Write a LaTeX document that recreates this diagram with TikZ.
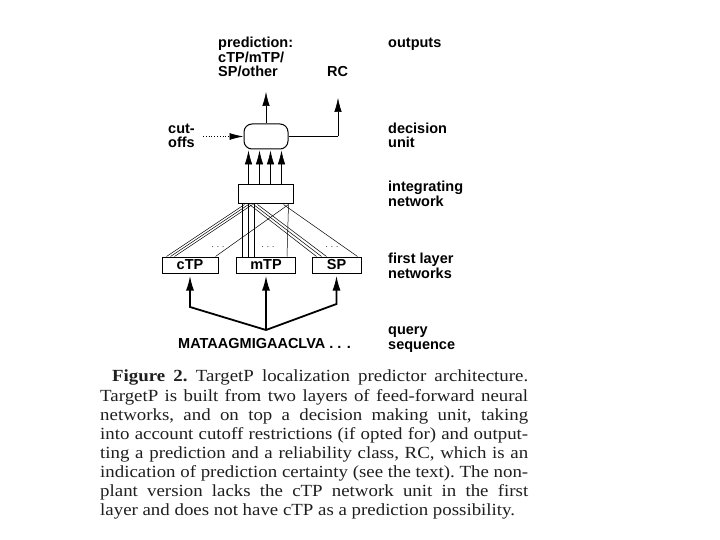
\documentclass[tikz,border=0pt]{standalone}
\usepackage{fontspec}
\setmainfont[FakeStretch=1.11]{Liberation Serif}
\newfontfamily\hvfont{Liberation Sans}
\usetikzlibrary{arrows.meta,calc}
\begin{document}
\begin{tikzpicture}[x=1pt,y=-1pt,
  lbl/.style={font=\hvfont\bfseries\fontsize{14.5}{15}\selectfont, inner sep=0pt, anchor=base west},
  netbox/.style={draw, line width=1pt, inner sep=0pt, minimum height=16pt, font=\hvfont\bfseries\fontsize{14.5}{15}\selectfont},
  conn/.style={line width=0.5pt},
  thinarrow/.style={line width=0.6pt, -{Latex[length=14pt,width=7.5pt]}},
  thickarrow/.style={line width=1.8pt, -{Latex[length=15pt,width=8pt]}, shorten >=2pt},
  dotlbl/.style={font=\hvfont\fontsize{8}{8}\selectfont, inner sep=0pt}
]
\useasboundingbox (0,0) rectangle (720,540);
\fill[white] (0,0) rectangle (720,540);

% first layer networks
\node[netbox, minimum width=56pt] (ctp) at (190,265) {cTP};
\node[netbox, minimum width=59pt] (mtp) at (266,265) {mTP};
\node[netbox, minimum width=49pt] (sp) at (336.5,265) {SP};
% integrating network
\node[draw, line width=1pt, minimum width=55pt, minimum height=19pt, inner sep=0pt] (integ) at (265.5,194.5) {};
% decision unit
\node[draw, line width=1pt, rounded corners=8pt, minimum width=44pt, minimum height=25pt, inner sep=0pt] (dec) at (266,136.5) {};

% connections first layer -> integrating network
\foreach \a/\b in {5/7, 9/11, 13/15}
  \draw[conn] ($(ctp.north west)+(\a,0)$) -- ($(integ.south west)+(\b,0)$);
\draw[conn] ($(ctp.north east)+(-3,0)$) -- ($(integ.south east)+(-5,0)$);
\foreach \a in {5,11,17}{
  \coordinate (vt\a) at ($(integ.south west)+(\a,0)$);
  \draw[conn] (vt\a) -- (vt\a |- mtp.north);
}
\draw[conn] ($(integ.south east)+(-5,0)$) -- ($(mtp.north east)+(-9,0)$);
\foreach \a/\b in {12/5, 16/10, 20/15}
  \draw[conn] ($(integ.south west)+(\a,0)$) -- ($(sp.north west)+(\b,0)$);
\draw[conn] ($(integ.south east)+(-10,0)$) -- ($(sp.north east)+(-4,0)$);
\node[dotlbl] (d1) at (218,247) {. . .};
\node[dotlbl] (d2) at (268,247) {. . .};
\node[dotlbl] (d3) at (332,247) {. . .};

% integrating -> decision
\foreach \a/\b in {11/5, 22/16, 33/27, 44/38}
  \draw[thinarrow] ($(integ.north west)+(\a,0)$) -- ($(dec.south west)+(\b,1)$);

% outputs
\coordinate (predtip) at (266,92);
\draw[thinarrow] (dec.north) -- (predtip);
\coordinate (rccorner) at (338,136.5);
\coordinate (rctip) at (338,98);
\draw[line width=1pt] (dec.east) -- (rccorner);
\draw[thinarrow] (rccorner) -- (rctip);
\coordinate (cutstart) at (203,136.5);
\draw[line width=0.8pt, dotted, -{Latex[length=14pt,width=7pt]}] (cutstart) -- (dec.west);

% query sequence arrows
\coordinate (join) at (266,330);
\coordinate (lcorner) at (190,307);
\coordinate (rcorner) at (336.5,304);
\draw[thickarrow] (join) -- (lcorner) -- (ctp.south);
\draw[thickarrow] (join) -- (mtp.south);
\draw[thickarrow] (join) -- (rcorner) -- (sp.south);

% labels
\node[lbl] (p1) at (218,48) {prediction:};
\node[lbl] (p2) at (218,63) {cTP/mTP/};
\node[lbl] (p3) at (218,77) {SP/other};
\node[lbl] (rc) at (327,77) {RC};
\node[lbl] (out) at (388,48) {outputs};
\node[lbl] (cut1) at (168,134) {cut-};
\node[lbl] (cut2) at (168,148) {offs};
\node[lbl] (dec1) at (388,134) {decision};
\node[lbl] (dec2) at (388,148) {unit};
\node[lbl] (int1) at (388,192) {integrating};
\node[lbl] (int2) at (388,207) {network};
\node[lbl] (fl1) at (388,263) {first layer};
\node[lbl] (fl2) at (388,278) {networks};
\node[lbl] (q1) at (388,334) {query};
\node[lbl] (q2) at (388,349) {sequence};
\node[lbl] (seq) at (178,348) {MATAAGMIGAACLVA . . .};

% caption
\node[anchor=north west, inner sep=0pt, text width=428pt, align=justify,
      font=\fontsize{17}{19.1}\selectfont, text=black!88] (cap) at (100,370)
{\frenchspacing\hspace*{12pt}\textbf{Figure 2.} TargetP localization predictor architecture.\linebreak
TargetP is built from two layers of feed-forward neural\linebreak
networks, and on top a decision making unit, taking\linebreak
into account cutoff restrictions (if opted for) and output-\linebreak
ting a prediction and a reliability class, RC, which is an\linebreak
indication of prediction certainty (see the text). The non-\linebreak
plant version lacks the cTP network unit in the first\linebreak
layer and does not have cTP as a prediction possibility.};
\end{tikzpicture}
\end{document}
